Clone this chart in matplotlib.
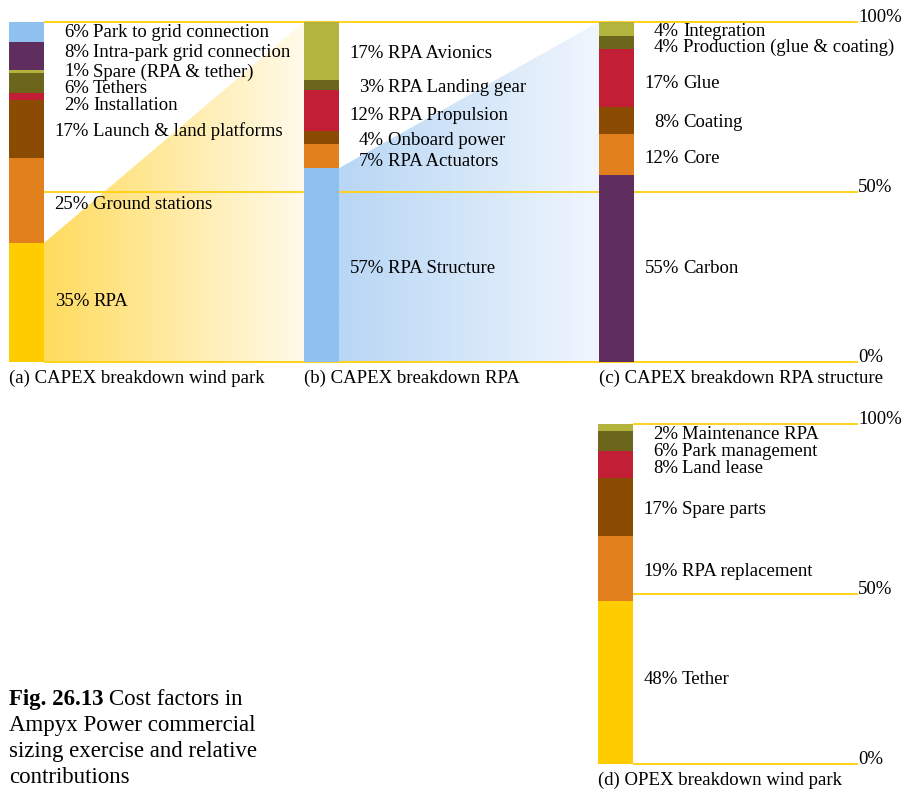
import numpy as np
import matplotlib.pyplot as plt
from matplotlib.patches import Polygon
from matplotlib.colors import LinearSegmentedColormap

plt.rcParams['font.family'] = ['Liberation Serif', 'DejaVu Serif']
plt.rcParams['font.size'] = 13.5

W, H = 904, 791

# cost shares in percent, listed from the bottom of each bar to the top
park_labels = ['RPA', 'Ground stations', 'Launch & land platforms', 'Installation',
               'Tethers', 'Spare (RPA & tether)', 'Intra-park grid connection',
               'Park to grid connection']
park_values = [35, 25, 17, 2, 6, 1, 8, 6]

rpa_labels = ['RPA Structure', 'RPA Actuators', 'Onboard power', 'RPA Propulsion',
              'RPA Landing gear', 'RPA Avionics']
rpa_values = [57, 7, 4, 12, 3, 17]

struct_labels = ['Carbon', 'Core', 'Coating', 'Glue', 'Production (glue & coating)',
                 'Integration']
struct_values = [55, 12, 8, 17, 4, 4]

opex_labels = ['Tether', 'RPA replacement', 'Spare parts', 'Land lease',
               'Park management', 'Maintenance RPA']
opex_values = [48, 19, 17, 8, 6, 2]

# colours
YELLOW = '#FFCC00'
ORANGE = '#E2801E'
BROWN = '#8C4B02'
RED = '#C21E35'
OLIVE_D = '#6B661B'
OLIVE_L = '#B3B43E'
PURPLE = '#5F2E5E'
BLUE = '#8EC0F0'
GOLD = '#FFD21A'

park_colors = [YELLOW, ORANGE, BROWN, RED, OLIVE_D, OLIVE_L, PURPLE, BLUE]
rpa_colors = [BLUE, ORANGE, BROWN, RED, OLIVE_D, OLIVE_L]
struct_colors = [PURPLE, ORANGE, BROWN, RED, OLIVE_D, OLIVE_L]
opex_colors = [YELLOW, ORANGE, BROWN, RED, OLIVE_D, OLIVE_L]

# small vertical shifts so the crowded labels don't overlap
park_nudge = [1.0, -0.7, 0, -2.1, -1.1, 0.4, 1.5, 0.4]
rpa_nudge = [-0.5, -1.0, -0.4, -0.8, -0.3, -0.3]
struct_nudge = [0.7, -0.7, -0.1, -0.9, -0.8, -0.1]
opex_nudge = [1.3, -0.4, -0.2, -0.4, -2.4, -1.4]

BAR_W = 35

fig = plt.figure(figsize=(W / 100, H / 100), dpi=100)


def panel_axes(y_top, y_bottom):
    ax = fig.add_axes([0, 1 - y_bottom / H, 1, (y_bottom - y_top) / H])
    ax.axis('off')
    return ax


def stacked(ax, x0, values, colors, labels, nudge):
    bottoms = np.concatenate([[0], np.cumsum(values)[:-1]])
    ax.bar(x0 + BAR_W / 2, values, width=BAR_W, bottom=bottoms, color=colors,
           linewidth=0, zorder=3)
    for v, b, name, dy in zip(values, bottoms, labels, nudge):
        y = b + v / 2 + dy
        ax.text(x0 + BAR_W + 45, y, f'{v}%', ha='right', va='center_baseline', zorder=4)
        ax.text(x0 + BAR_W + 49, y, name, ha='left', va='center_baseline', zorder=4)


def funnel(ax, x0, x1, share, c_left, c_right):
    poly = Polygon([(x0, 0), (x0, share), (x1, 100), (x1, 0)], closed=True,
                   fc='none', ec='none')
    ax.add_patch(poly)
    cmap = LinearSegmentedColormap.from_list('fade', [c_left, c_right])
    grad = np.linspace(0, 1, 256).reshape(1, -1)
    im = ax.imshow(grad, cmap=cmap, extent=[x0, x1, 0, 100], aspect='auto',
                   origin='lower', zorder=1, interpolation='bilinear')
    im.set_clip_path(poly)


def guides(ax, x0):
    ax.hlines([0, 50, 100], x0, 858, color=GOLD, lw=1.4, zorder=2, clip_on=False)
    for y in [0, 50, 100]:
        ax.text(858, y, f'{y}%', ha='left', va='baseline', zorder=4)


# top row: CAPEX breakdowns
top = panel_axes(22, 362)
xa, xb, xc = 9, 304, 599
funnel(top, xa + BAR_W, xb, park_values[0], '#FFDB5E', '#FFFAEA')
funnel(top, xb + BAR_W, xc, rpa_values[0], '#B8D6F5', '#F0F6FD')
guides(top, xa + BAR_W)
stacked(top, xa, park_values, park_colors, park_labels, park_nudge)
stacked(top, xb, rpa_values, rpa_colors, rpa_labels, rpa_nudge)
stacked(top, xc, struct_values, struct_colors, struct_labels, struct_nudge)
top.set_xlim(0, W)
top.set_ylim(0, 100)

# bottom row: OPEX breakdown
bot = panel_axes(424, 764)
xd = 598
guides(bot, xd + BAR_W)
stacked(bot, xd, opex_values, opex_colors, opex_labels, opex_nudge)
bot.set_xlim(0, W)
bot.set_ylim(0, 100)

# sub captions
for x, y, s in [(9, 383, '(a) CAPEX breakdown wind park'),
                (304, 383, '(b) CAPEX breakdown RPA'),
                (599, 383, '(c) CAPEX breakdown RPA structure'),
                (598, 785, '(d) OPEX breakdown wind park')]:
    fig.text(x / W, 1 - y / H, s, va='baseline', ha='left')

# figure caption
cap_size = 16.5
renderer = fig.canvas.get_renderer()
head = fig.text(9 / W, 1 - 705 / H, 'Fig. 26.13', fontsize=cap_size,
                fontweight='bold', va='baseline')
hw = head.get_window_extent(renderer).width
fig.text((9 + hw + 6) / W, 1 - 705 / H, 'Cost factors in', fontsize=cap_size,
         va='baseline')
for i, line in enumerate(['Ampyx Power commercial', 'sizing exercise and relative',
                          'contributions']):
    fig.text(9 / W, 1 - (705 + 26 * (i + 1)) / H, line, fontsize=cap_size,
             va='baseline')

fig.savefig('out.png', dpi=100)
